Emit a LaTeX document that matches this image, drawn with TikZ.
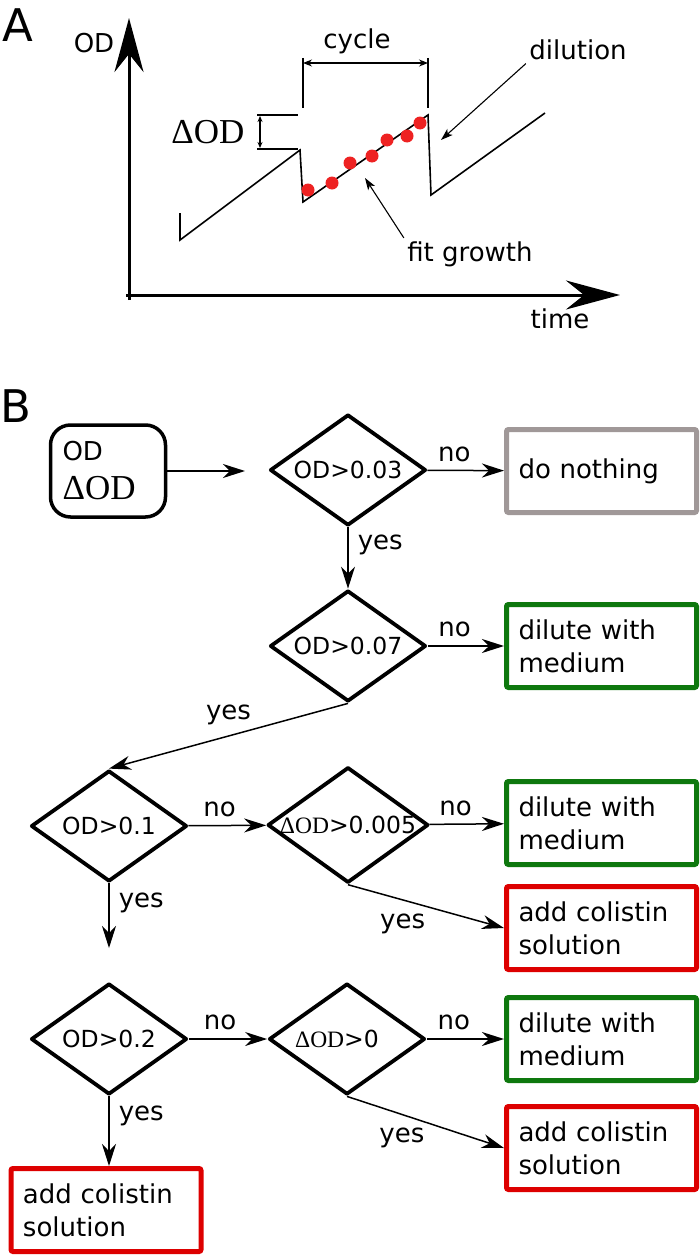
\documentclass[tikz,border=0pt]{standalone}
\usepackage{fontspec}
\setmainfont{DejaVu Sans}
\newfontfamily\tnr{Liberation Serif}
\usetikzlibrary{shapes.geometric,arrows.meta}
\definecolor{nogray}{HTML}{A09898}
\definecolor{dilgreen}{HTML}{0E780E}
\definecolor{colred}{HTML}{DD0000}
\definecolor{dotred}{HTML}{EE2222}
\def\dOD{{\tnr ΔOD}}
\tikzset{
  test/.style={diamond,draw,line width=3.8pt,line join=round,aspect=1.39,
    minimum width=156pt,minimum height=111pt,inner sep=0pt,
    font=\fontsize{23.5}{28}\selectfont},
  act/.style={rectangle,draw=#1,line width=5pt,rounded corners=2pt,
    minimum width=190pt,minimum height=83pt,text width=166pt,inner xsep=12pt,
    align=left,font=\fontsize{26}{33}\selectfont},
  flow/.style={-{Stealth[length=22pt,width=14pt,inset=7pt]},line width=1.5pt},
  lbl/.style={inner sep=2pt},
  bigtip/.style={-{Stealth[length=54pt,width=29pt,inset=18pt]},line width=3pt},
  thin/.style={line width=1.1pt}
}

\begin{document}
\begin{tikzpicture}[x=1pt,y=-1pt,font=\fontsize{26}{31}\selectfont]
  \useasboundingbox (0,0) rectangle (700,1255);
  % A: growth between dilutions
  \begin{scope}
    \node (pa) at (18,25) {\fontsize{45}{45}\selectfont A};
    \draw[bigtip] (129,300) -- (129,18);
    \draw[bigtip] (126,295) -- (620,295);
    \node (yl) at (94,43) {OD};
    \node (xl) at (560,319) {time};
    \draw[line width=1.6pt] (180,213) -- (180,240) -- (300,150) -- (303,202)
      -- (428,115) -- (431,195) -- (545,113);
    \foreach \p in {(308,190),(332,183),(350,163),(372,156),(387,140),(407,136),(420,123)}
      \fill[dotred] \p circle (6.5pt);
    % cycle
    \draw[thin] (303,58) -- (303,108) (428,58) -- (428,108);
    \draw[thin,{Stealth[length=9pt,width=7pt]}-{Stealth[length=9pt,width=7pt]}] (303,63) -- (428,63);
    \node (cyc) at (357,41) {cycle};
    % delta OD
    \draw[thin] (257,115) -- (298,115) (257,149) -- (298,149);
    \draw[thin,{Stealth[length=6pt,width=5pt]}-{Stealth[length=6pt,width=5pt]}] (260,116) -- (260,148);
    \node (dl) at (208,132) {\fontsize{35}{35}\selectfont\dOD};
    \node (dil) at (578,50) {dilution};
    \coordinate (dilend) at (441,140);
    \draw[thin,-{Stealth[length=12pt,width=8pt,inset=3pt]}] (dil.south west) -- (dilend);
    \node (fit) at (470,254) {fit growth};
    \coordinate (fitend) at (365,178);
    \draw[thin,-{Stealth[length=12pt,width=8pt,inset=3pt]}] (fit.north west) -- (fitend);
  \end{scope}
  % B: decision tree
  \begin{scope}
    \node (pb) at (16,406) {\fontsize{45}{45}\selectfont B};
    \node[draw,line width=3.5pt,rounded corners=20pt,minimum width=115pt,
      minimum height=92pt,text width=91pt,inner xsep=12pt,align=left,
      font=\fontsize{26}{39}\selectfont] (meas) at (108,471)
      {OD\\{\fontsize{35}{39}\selectfont\dOD}};
    \coordinate (measend) at (245,471);
    \node[test] (t1) at (348,470) {OD>0.03};
    \node[test] (t2) at (348,646) {OD>0.07};
    \node[test] (t3) at (109,826) {OD>0.1};
    \node[test] (t4) at (348,825) {\dOD>0.005};
    \node[test] (t5) at (109,1039) {OD>0.2};
    \node[test] (t6) at (347,1039) {\dOD>0\hspace*{20pt}};
    \node[act=nogray] (none) at (601.5,471) {do nothing};
    \node[act=dilgreen] (dil1) at (601.5,646) {dilute with\\medium};
    \node[act=dilgreen] (dil2) at (601.5,823) {dilute with\\medium};
    \node[act=colred] (col1) at (601.5,928) {add colistin\\solution};
    \node[act=dilgreen] (dil3) at (601.5,1039) {dilute with\\medium};
    \node[act=colred] (col2) at (601.5,1148) {add colistin\\solution};
    \node[act=colred] (col3) at (106,1210) {add colistin\\solution};
    \coordinate (t3end) at (109,948);

    \draw[flow] (meas) -- (measend);
    \draw[flow] (t1) -- node[lbl,pos=0.35,above=6pt] {no} (none);
    \draw[flow] (t1) -- node[lbl,pos=0.28,right=7pt] {yes} (t2);
    \draw[flow] (t2) -- node[lbl,pos=0.35,above=6pt] {no} (dil1);
    \draw[flow] (t2.south) -- node[lbl,midway,above=8pt] {yes} (t3.north);
    \draw[flow] (t3) -- node[lbl,pos=0.4,above=6pt] {no} (t4);
    \draw[flow] (t4) -- node[lbl,pos=0.35,above=6pt] {no} (dil2);
    \draw[flow] (t4.south) -- node[lbl,pos=0.35,below=11pt] {yes} (col1.west);
    \draw[flow] (t3.south) -- node[lbl,pos=0.3,right=7pt] {yes} (t3end);
    \draw[flow] (t5) -- node[lbl,pos=0.4,above=6pt] {no} (t6);
    \draw[flow] (t6) -- node[lbl,pos=0.35,above=6pt] {no} (dil3);
    \draw[flow] (t6.south) -- node[lbl,pos=0.35,below=11pt] {yes} (col2.west);
    \draw[flow] (t5.south) -- node[lbl,pos=0.28,right=7pt] {yes} (t5.south |- col3.north);
  \end{scope}
\end{tikzpicture}
\end{document}
